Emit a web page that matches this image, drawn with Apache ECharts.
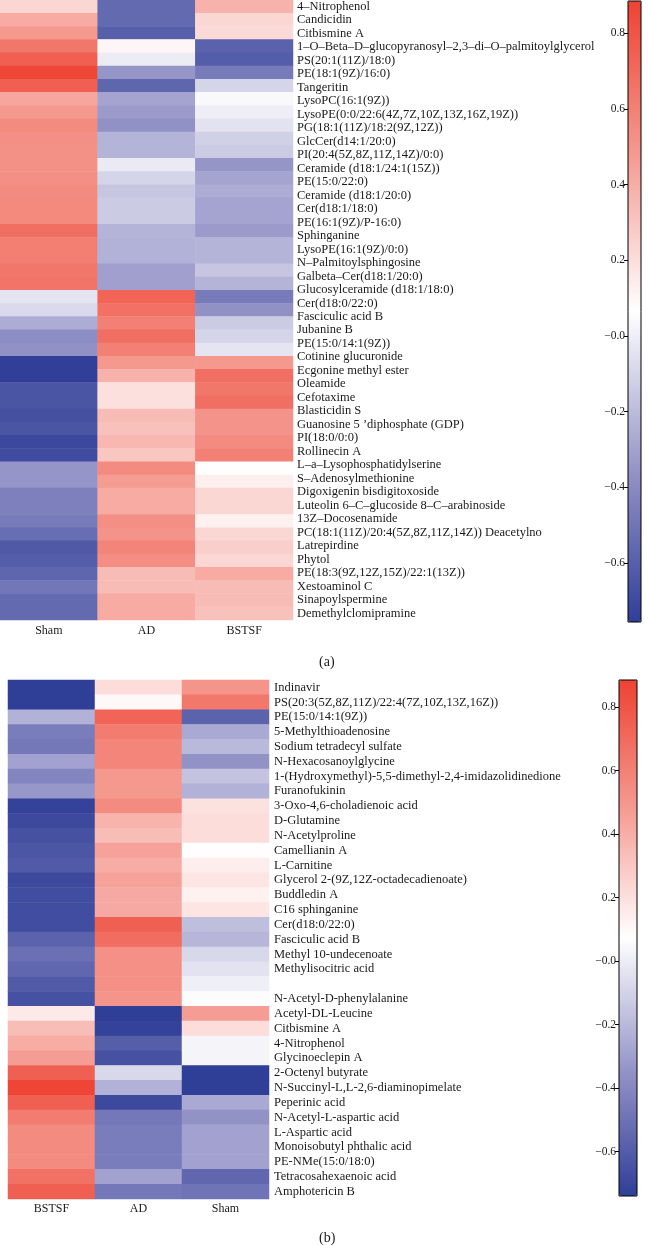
<!DOCTYPE html>
<html><head><meta charset="utf-8">
<script src="https://cdn.jsdelivr.net/npm/echarts@6/dist/echarts.min.js"></script>
<style>html,body{margin:0;padding:0;background:#fff}#c{width:648px;height:1246px}</style>
</head><body><div id="c"></div>
<script>
// ---------- Panel (a) ----------
const groupsA = ['Sham', 'AD', 'BSTSF'];
const labelsA = ['4–Nitrophenol','Candicidin','Citbismine A','1–O–Beta–D–glucopyranosyl–2,3–di–O–palmitoylglycerol','PS(20:1(11Z)/18:0)','PE(18:1(9Z)/16:0)','Tangeritin','LysoPC(16:1(9Z))','LysoPE(0:0/22:6(4Z,7Z,10Z,13Z,16Z,19Z))','PG(18:1(11Z)/18:2(9Z,12Z))','GlcCer(d14:1/20:0)','PI(20:4(5Z,8Z,11Z,14Z)/0:0)','Ceramide (d18:1/24:1(15Z))','PE(15:0/22:0)','Ceramide (d18:1/20:0)','Cer(d18:1/18:0)','PE(16:1(9Z)/P-16:0)','Sphinganine','LysoPE(16:1(9Z)/0:0)','N–Palmitoylsphingosine','Galbeta–Cer(d18:1/20:0)','Glucosylceramide (d18:1/18:0)','Cer(d18:0/22:0)','Fasciculic acid B','Jubanine B','PE(15:0/14:1(9Z))','Cotinine glucuronide','Ecgonine methyl ester','Oleamide','Cefotaxime','Blasticidin S','Guanosine 5 ’diphosphate (GDP)','PI(18:0/0:0)','Rollinecin A','L–a–Lysophosphatidylserine','S–Adenosylmethionine','Digoxigenin bisdigitoxoside','Luteolin 6–C–glucoside 8–C–arabinoside','13Z–Docosenamide','PC(18:1(11Z)/20:4(5Z,8Z,11Z,14Z)) Deacetylno','Latrepirdine','Phytol','PE(18:3(9Z,12Z,15Z)/22:1(13Z))','Xestoaminol C','Sinapoylspermine','Demethylclomipramine'];
const shamA = [0.23,0.41,0.49,0.64,0.75,0.86,0.75,0.43,0.49,0.55,0.53,0.52,0.52,0.53,0.55,0.56,0.56,0.68,0.61,0.61,0.64,0.66,-0.04,-0.08,-0.26,-0.39,-0.37,-0.75,-0.75,-0.65,-0.65,-0.67,-0.65,-0.71,-0.69,-0.35,-0.35,-0.45,-0.45,-0.47,-0.53,-0.63,-0.61,-0.57,-0.49,-0.55,-0.55];
const adA = [-0.55,-0.55,-0.60,0.10,-0.01,-0.35,-0.57,-0.29,-0.33,-0.37,-0.23,-0.23,-0.02,-0.10,-0.16,-0.14,-0.14,-0.23,-0.24,-0.24,-0.31,-0.31,0.73,0.67,0.60,0.68,0.60,0.49,0.38,0.19,0.19,0.34,0.32,0.36,0.30,0.55,0.47,0.41,0.41,0.53,0.51,0.58,0.54,0.34,0.34,0.41,0.41];
const bstsfA = [0.38,0.23,0.22,-0.59,-0.61,-0.47,-0.10,0.04,0.00,-0.05,-0.12,-0.14,-0.35,-0.29,-0.26,-0.29,-0.29,-0.33,-0.23,-0.23,-0.16,-0.23,-0.47,-0.37,-0.14,-0.10,-0.04,0.49,0.68,0.64,0.68,0.51,0.51,0.55,0.60,0.06,0.13,0.23,0.23,0.12,0.23,0.26,0.23,0.41,0.34,0.34,0.32];
const rangeA = [-0.756, 0.885];

// ---------- Panel (b) ----------
const groupsB = ['BSTSF', 'AD', 'Sham'];
const labelsB = ['Indinavir','PS(20:3(5Z,8Z,11Z)/22:4(7Z,10Z,13Z,16Z))','PE(15:0/14:1(9Z))','5-Methylthioadenosine','Sodium tetradecyl sulfate','N-Hexacosanoylglycine','1-(Hydroxymethyl)-5,5-dimethyl-2,4-imidazolidinedione','Furanofukinin','3-Oxo-4,6-choladienoic acid','D-Glutamine','N-Acetylproline','Camellianin A','L-Carnitine','Glycerol 2-(9Z,12Z-octadecadienoate)','Buddledin A','C16 sphinganine','Cer(d18:0/22:0)','Fasciculic acid B','Methyl 10-undecenoate','Methylisocitric acid','','N-Acetyl-D-phenylalanine','Acetyl-DL-Leucine','Citbismine A','4-Nitrophenol','Glycinoeclepin A','2-Octenyl butyrate','N-Succinyl-L,L-2,6-diaminopimelate','Peperinic acid','N-Acetyl-L-aspartic acid','L-Aspartic acid','Monoisobutyl phthalic acid','PE-NMe(15:0/18:0)','Tetracosahexaenoic acid','Amphotericin B'];
const bstsfB = [-0.75,-0.75,-0.23,-0.45,-0.47,-0.29,-0.41,-0.33,-0.72,-0.69,-0.65,-0.63,-0.61,-0.69,-0.67,-0.67,-0.67,-0.57,-0.51,-0.55,-0.61,-0.65,0.16,0.34,0.41,0.47,0.75,0.87,0.75,0.62,0.55,0.55,0.55,0.67,0.75];
const adB = [0.21,0.10,0.73,0.62,0.58,0.58,0.49,0.49,0.55,0.38,0.34,0.45,0.41,0.45,0.42,0.42,0.75,0.69,0.53,0.53,0.53,0.51,-0.75,-0.72,-0.59,-0.65,-0.08,-0.23,-0.69,-0.47,-0.45,-0.45,-0.45,-0.29,-0.47];
const shamB = [0.51,0.64,-0.57,-0.26,-0.20,-0.35,-0.16,-0.23,0.19,0.21,0.21,0.08,0.14,0.18,0.13,0.18,-0.18,-0.21,-0.08,-0.04,0.01,0.06,0.47,0.21,0.03,0.03,-0.75,-0.76,-0.26,-0.35,-0.29,-0.29,-0.29,-0.55,-0.49];
const rangeB = [-0.74, 0.885];

// colour-bar tick values (shared by both panels)
const colorTicks = [-0.6, -0.4, -0.2, 0, 0.2, 0.4, 0.6, 0.8];

const palette = ['#2f3e97', '#9796c9', '#ffffff', '#f59b92', '#ee4232'];
const FONT = 'Liberation Serif';
const TXT = '#1a1a1a';

function cells(cols) {
  const out = [];
  cols.forEach((col, x) => col.forEach((v, y) => out.push([x, y, v])));
  return out;
}
const dataA = cells([shamA, adA, bstsfA]);
const dataB = cells([bstsfB, adB, shamB]);
const rowIdsA = shamA.map((_, i) => String(i));

function tickFmt(v) {
  return (v < 1e-9 ? '−' : '') + Math.abs(v).toFixed(1);
}

function barAxis(grid, range) {
  return {type: 'value', gridIndex: grid, min: range[0], max: range[1], position: 'left',
    axisLine: {show: false}, splitLine: {show: false},
    axisTick: {show: true, length: 4, customValues: colorTicks, lineStyle: {color: '#000'}},
    axisLabel: {margin: 3, fontFamily: FONT, fontSize: 11.5, color: TXT, customValues: colorTicks, formatter: tickFmt}};
}

const chart = echarts.init(document.getElementById('c'), null, {renderer: 'canvas'});
chart.setOption({
  animation: false,
  backgroundColor: '#ffffff',
  title: [
    {text: '(a)', left: 314, top: 650, textStyle: {fontFamily: FONT, fontSize: 14, fontWeight: 'normal', color: TXT}},
    {text: '(b)', left: 314, top: 1226, textStyle: {fontFamily: FONT, fontSize: 14, fontWeight: 'normal', color: TXT}}
  ],
  grid: [
    {left: 0, top: 0, width: 293, height: 620, outerBoundsMode: 'none'},
    {left: 8, top: 680, width: 261, height: 519, outerBoundsMode: 'none'},
    {left: 628, top: 1, width: 13, height: 621, show: true, borderColor: '#000', borderWidth: 1, backgroundColor: 'transparent', z: 10, outerBoundsMode: 'none'},
    {left: 619, top: 680, width: 18, height: 516, show: true, borderColor: '#000', borderWidth: 1, backgroundColor: 'transparent', z: 10, outerBoundsMode: 'none'}
  ],
  xAxis: [
    {type: 'category', gridIndex: 0, data: groupsA, axisLine: {show: false}, axisTick: {show: false}, splitLine: {show: false},
     axisLabel: {margin: 5, fontFamily: FONT, fontSize: 12, color: TXT}},
    {type: 'category', gridIndex: 1, data: groupsB, axisLine: {show: false}, axisTick: {show: false}, splitLine: {show: false},
     axisLabel: {margin: 4, fontFamily: FONT, fontSize: 12, color: TXT}},
    {type: 'value', gridIndex: 2, show: false},
    {type: 'value', gridIndex: 3, show: false}
  ],
  yAxis: [
    {type: 'category', gridIndex: 0, data: rowIdsA, inverse: true, show: false},
    {type: 'category', gridIndex: 0, data: labelsA, inverse: true, position: 'right',
     axisLine: {show: false}, axisTick: {show: false}, splitLine: {show: false},
     axisLabel: {interval: 0, margin: 4, fontFamily: FONT, fontSize: 12.5, color: TXT}},
    {type: 'category', gridIndex: 1, data: labelsB, inverse: true, position: 'right',
     axisLine: {show: false}, axisTick: {show: false}, splitLine: {show: false},
     axisLabel: {interval: 0, margin: 5, fontFamily: FONT, fontSize: 12.5, color: TXT}},
    barAxis(2, rangeA),
    barAxis(3, rangeB)
  ],
  visualMap: [
    {type: 'continuous', seriesIndex: 0, min: rangeA[0], max: rangeA[1], left: 628, top: 1, itemWidth: 13, itemHeight: 621,
     calculable: false, hoverLink: false, padding: 0, text: null, showLabel: false, inRange: {color: palette}},
    {type: 'continuous', seriesIndex: 1, min: rangeB[0], max: rangeB[1], left: 619, top: 680, itemWidth: 18, itemHeight: 516,
     calculable: false, hoverLink: false, padding: 0, text: null, showLabel: false, inRange: {color: palette}}
  ],
  series: [
    {type: 'heatmap', xAxisIndex: 0, yAxisIndex: 0, data: dataA, itemStyle: {borderWidth: 0}, emphasis: {disabled: true}},
    {type: 'heatmap', xAxisIndex: 1, yAxisIndex: 2, data: dataB, itemStyle: {borderWidth: 0}, emphasis: {disabled: true}}
  ]
});
</script>
</body></html>
